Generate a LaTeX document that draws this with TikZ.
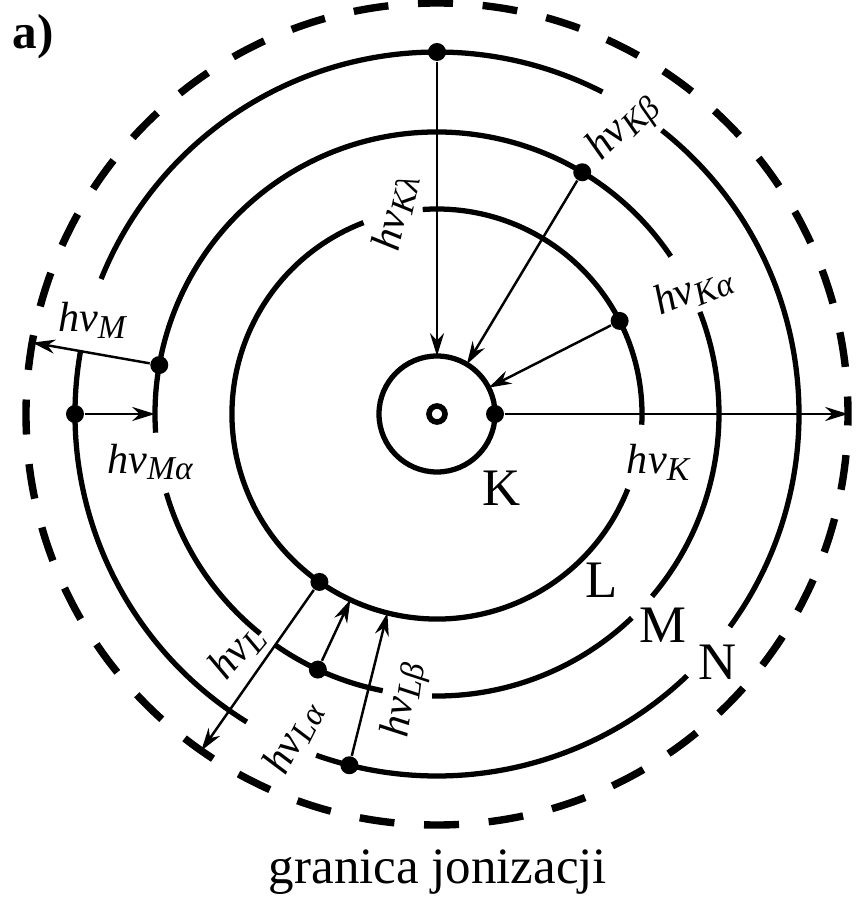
\documentclass[tikz,border=0pt]{standalone}
\usepackage{fontspec}
\setmainfont{Liberation Serif}
\usetikzlibrary{arrows.meta}
\newcommand{\hnu}[1]{\textit{hν\raisebox{-0.35ex}{\fontsize{9.5}{11}\selectfont#1}}}

\begin{document}
\begin{tikzpicture}[
    shell/.style={line width=1.5pt},
    limit/.style={line width=2.1pt,dash pattern=on 3.5mm off 2.972mm,dash phase=1.75mm},
    ray/.style={line width=0.7pt,-{Stealth[length=6.5pt,width=4pt]}},
    dot/.style={circle,fill,inner sep=0pt,minimum size=1.8mm},
    lab/.style={inner sep=0pt,font=\fontsize{12}{14}\selectfont},
    shellname/.style={inner sep=0pt,font=\fontsize{15}{18}\selectfont}]
  \useasboundingbox (-4.37,-4.84) rectangle (4.20,4.14);
  % shells K, L, M, N with their gaps
  \node[circle,draw,line width=1.6pt,inner sep=0pt,minimum size=1.6mm] (nucleus) at (0,0) {};
  \draw[shell] (0,0) circle[radius=0.58];
  \foreach \a/\b in {-3/94,111/338.5}
    \draw[shell] (\a:2.05) arc[start angle=\a,end angle=\b,radius=2.05];
  \foreach \a/\b in {34/183.8,196.3/231.2,235/258.9,269/313.7,319.7/381.2}
    \draw[shell] (\a:2.82) arc[start angle=\a,end angle=\b,radius=2.82];
  \foreach \a/\b in {62.8/158.1,170/238.3,250.5/313.7,324/411.6}
    \draw[shell] (\a:3.62) arc[start angle=\a,end angle=\b,radius=3.62];
  \draw[limit] (0,0) circle[radius=4.11];
  % electrons and targets
  \foreach \n/\a/\r in {N90/90/3.62,M59/59/2.82,L27/27/2.05,K0/0/0.58,
                        M170/170/2.82,N180/180/3.62,L235/235/2.05,M245/245/2.82,N256/256/3.62}
    \node[dot] (\n) at (\a:\r) {};
  \foreach \n/\a/\r in {k90/90/0.58,k59/59/0.58,k27/27/0.58,ion0/0/4.11,ion170/170/4.11,
                        m180/180/2.82,ion235/235/4.11,l245/245/2.05,l256/256/2.05}
    \coordinate (\n) at (\a:\r);
  \foreach \from/\to in {N90/k90,M59/k59,L27/k27,K0/ion0,M170/ion170,
                         N180/m180,L235/ion235,M245/l245,N256/l256}
    \draw[ray] (\from) -- (\to);
  % labels
  \node[lab,rotate=78] (hkl) at (-0.42,2.01) {\hnu{Kλ}};
  \node[lab,rotate=45] (hkb) at (1.87,2.86) {\hnu{Kβ}};
  \node[lab,rotate=22] (hka) at (2.56,1.24) {\hnu{Kα}};
  \node[lab] (hk) at (2.21,-0.48) {\hnu{K}};
  \node[lab] (hm) at (-3.45,0.94) {\hnu{M}};
  \node[lab] (hma) at (-2.87,-0.48) {\hnu{Mα}};
  \node[lab,rotate=50] (hl) at (-2.0,-2.38) {\hnu{L}};
  \node[lab,rotate=63] (hla) at (-1.44,-3.24) {\hnu{Lα}};
  \node[lab,rotate=82] (hlb) at (-0.32,-2.86) {\hnu{Lβ}};
  \node[shellname] (nameK) at (0.65,-0.74) {K};
  \node[shellname] (nameL) at (1.65,-1.66) {L};
  \node[shellname] (nameM) at (2.26,-2.11) {M};
  \node[shellname] (nameN) at (2.81,-2.48) {N};
  \node[inner sep=0pt,font=\bfseries\fontsize{14}{16}\selectfont] (part) at (-4.04,3.77) {a)};
  \node[inner sep=0pt,font=\fontsize{14.5}{17}\selectfont] (limitname) at (0.01,-4.58) {granica jonizacji};
\end{tikzpicture}
\end{document}
